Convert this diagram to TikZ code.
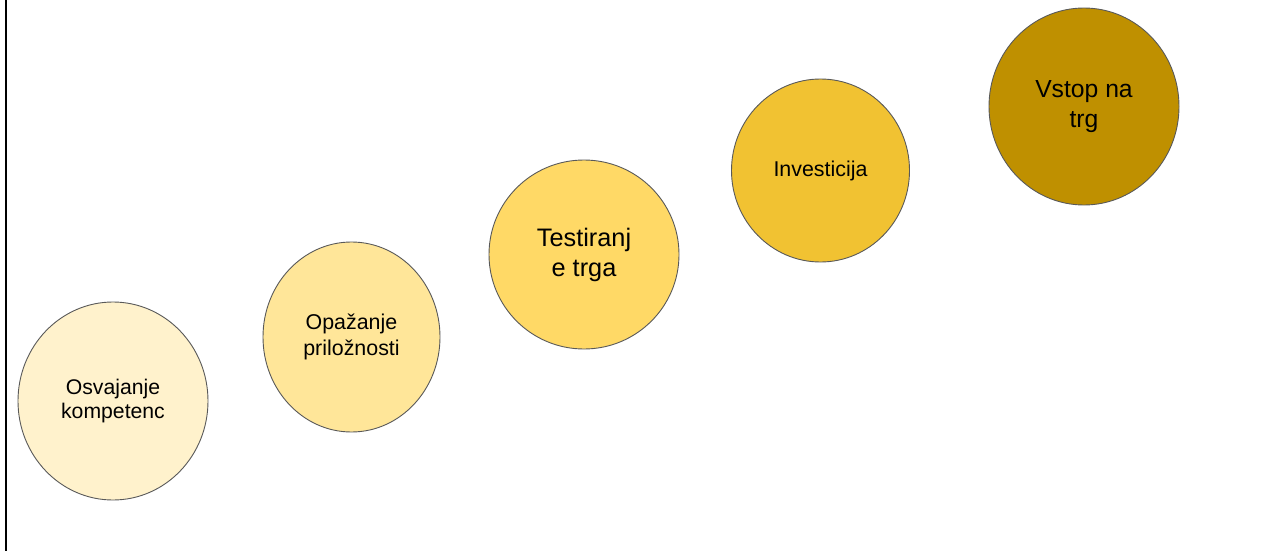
\documentclass[tikz,border=0pt]{standalone}
\usepackage{fontspec}
\setmainfont{Liberation Sans}
\usetikzlibrary{shapes.geometric}
\definecolor{c1}{HTML}{FFF2CC}
\definecolor{c2}{HTML}{FFE699}
\definecolor{c3}{HTML}{FFD966}
\definecolor{c4}{HTML}{F1C232}
\definecolor{c5}{HTML}{BF9000}
\definecolor{edge}{HTML}{595959}
\tikzset{
  stage/.style={ellipse, draw=edge, line width=0.9pt, inner sep=0pt, align=center, text=black},
}
\begin{document}
\begin{tikzpicture}[x=1pt,y=1pt]
\useasboundingbox (0,0) rectangle (1280,-551);
\fill[white] (0,0) rectangle (1280,-551);
\coordinate (ltop) at (6,0);
\coordinate (lbot) at (6,-551);
\draw[line width=2.5pt, black] (ltop) -- (lbot);
\node[stage, fill=c1, minimum width=190, minimum height=198, font=\fontsize{21.2}{24}\selectfont] (s1) at (113,-401) {Osvajanje\\kompetenc};
\node[stage, fill=c2, minimum width=177, minimum height=190, font=\fontsize{21.4}{25.5}\selectfont] (s2) at (351.5,-337) {Opažanje\\priložnosti};
\node[stage, fill=c3, minimum width=190, minimum height=189, font=\fontsize{25.3}{30}\selectfont] (s3) at (584,-254.5) {Testiranj\\e trga};
\node[stage, fill=c4, minimum width=178, minimum height=183, font=\fontsize{21.4}{25.5}\selectfont] (s4) at (820.5,-170.5) {Investicija};
\node[stage, fill=c5, minimum width=190, minimum height=197, font=\fontsize{24.7}{30}\selectfont] (s5) at (1084,-106.5) {Vstop na\\trg};
\end{tikzpicture}
\end{document}
